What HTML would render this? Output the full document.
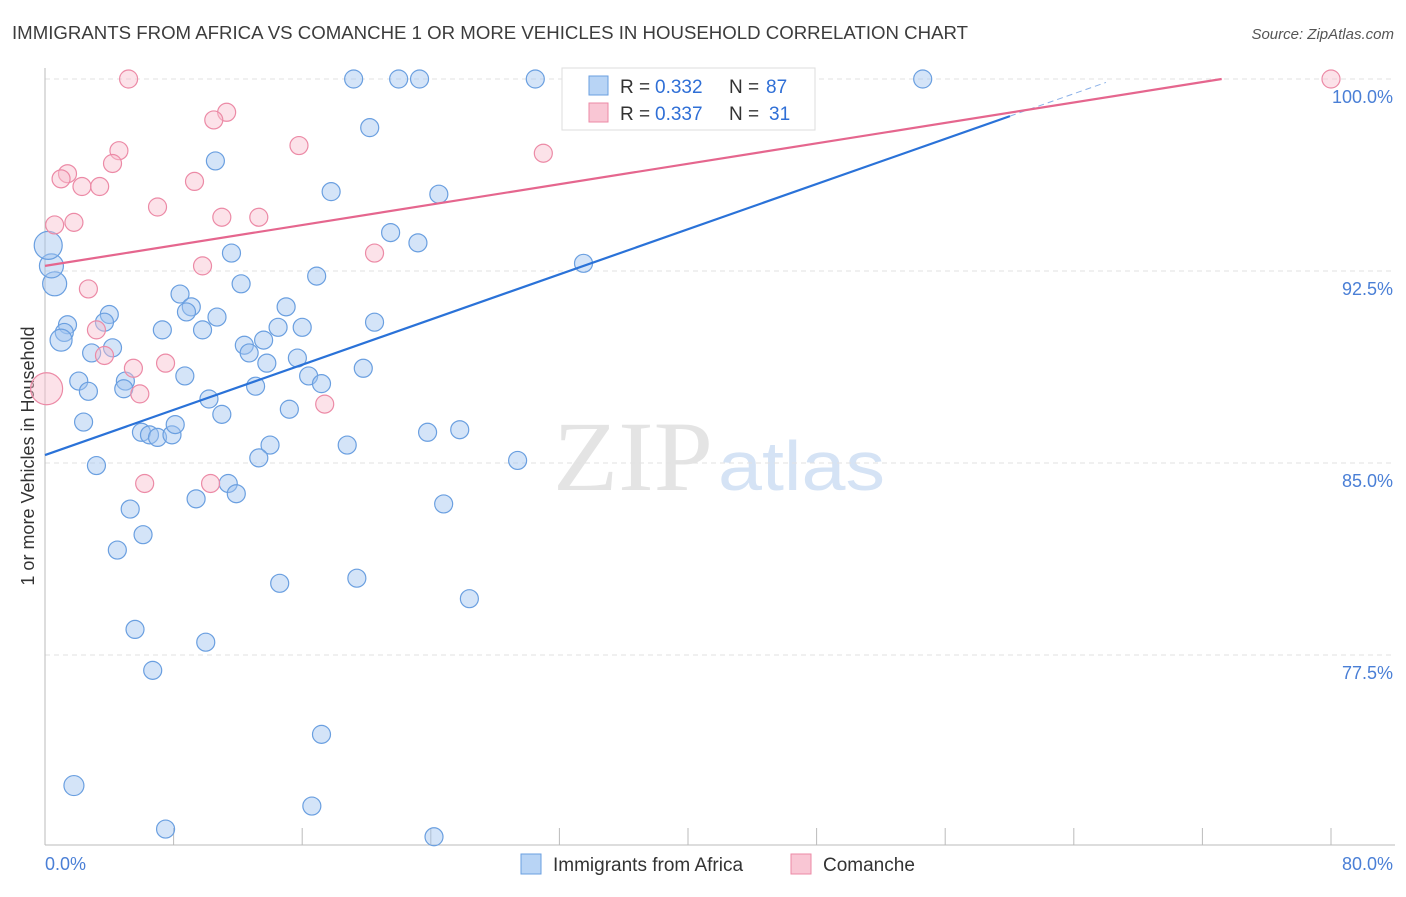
<!DOCTYPE html>
<html><head><meta charset="utf-8"><style>
body{margin:0;background:#fff;font-family:"Liberation Sans",sans-serif}
svg text{font-family:"Liberation Sans",sans-serif}
</style></head><body>
<svg id="chart" width="1406" height="892">
<text x="12" y="39" font-size="18" fill="#3c3c3c" textLength="956" lengthAdjust="spacingAndGlyphs">IMMIGRANTS FROM AFRICA VS COMANCHE 1 OR MORE VEHICLES IN HOUSEHOLD CORRELATION CHART</text>
<text x="1394" y="39" font-size="15" fill="#555" text-anchor="end" font-style="italic">Source: ZipAtlas.com</text>
<text x="553" y="490" font-size="100" fill="#e4e4e4" style="font-family:'Liberation Serif',serif" textLength="160" lengthAdjust="spacingAndGlyphs">ZIP</text>
<text x="718" y="490" font-size="70" fill="#d5e3f5" textLength="167" lengthAdjust="spacingAndGlyphs">atlas</text>
<text transform="translate(34,456) rotate(-90)" font-size="18" fill="#333" text-anchor="middle">1 or more Vehicles in Household</text>
<g id="grid"></g><g id="axes"></g><g id="marks"></g>
<g>
<rect x="562" y="68" width="253" height="62" fill="#fff" stroke="#ddd"/>
<rect x="589" y="76" width="19" height="19" fill="#b8d4f5" stroke="#6a9fe0"/>
<text x="620" y="93" font-size="19" fill="#333">R =</text>
<text x="655" y="93" font-size="19" fill="#2f6fd6">0.332</text>
<text x="729" y="93" font-size="19" fill="#333">N =</text>
<text x="766" y="93" font-size="19" fill="#2f6fd6">87</text>
<rect x="589" y="103" width="19" height="19" fill="#f9c6d4" stroke="#ec8aa6"/>
<text x="620" y="120" font-size="19" fill="#333">R =</text>
<text x="655" y="120" font-size="19" fill="#2f6fd6">0.337</text>
<text x="729" y="120" font-size="19" fill="#333">N =</text>
<text x="769" y="120" font-size="19" fill="#2f6fd6">31</text>
</g>
<g>
<rect x="521" y="854" width="20" height="20" fill="#b8d4f5" stroke="#6a9fe0"/>
<text x="553" y="871" font-size="19" fill="#333">Immigrants from Africa</text>
<rect x="791" y="854" width="20" height="20" fill="#f9c6d4" stroke="#ec8aa6"/>
<text x="823" y="871" font-size="19" fill="#333">Comanche</text>
</g>
</svg>
<script>
const xTicks=[0,80];
const yTicks=[77.5,85.0,92.5,100.0];
const blueX=[19.2,22.0,23.3,30.5,54.6,35.8,33.0,20.2,10.6,17.8,24.5,21.5,23.2,11.6,16.9,33.5,12.2,8.4,9.1,8.8,15.0,4.0,10.7,0.6,0.4,0.2,1.4,1.2,1.0,7.3,9.8,14.5,16.0,20.5,3.7,4.2,2.9,12.4,13.6,12.7,15.7,13.8,19.8,2.1,5.0,4.9,8.7,2.7,13.1,16.4,17.2,10.2,11.0,15.2,2.4,6.0,6.5,7.0,7.9,8.1,14.0,13.3,18.8,23.8,25.8,29.4,3.2,11.4,11.9,9.4,24.8,5.3,6.1,4.5,14.6,19.4,26.4,5.6,10.0,6.7,17.2,1.8,16.6,7.5,24.2];
const blueY=[100,100,100,100,100,100,100,98.1,96.8,95.6,95.5,94.0,93.6,93.2,92.3,92.8,92.0,91.6,91.1,90.9,91.1,90.8,90.7,92.0,92.7,93.5,90.4,90.1,89.8,90.2,90.2,90.3,90.3,90.5,90.5,89.5,89.3,89.6,89.8,89.3,89.1,88.9,88.7,88.2,88.2,87.9,88.4,87.8,88.0,88.4,88.1,87.5,86.9,87.1,86.6,86.2,86.1,86.0,86.1,86.5,85.7,85.2,85.7,86.2,86.3,85.1,84.9,84.2,83.8,83.6,83.4,83.2,82.2,81.6,80.3,80.5,79.7,78.5,78.0,76.9,74.4,72.4,71.6,70.7,70.4];
const blueR=[9,9,9,9,9,9,9,9,9,9,9,9,9,9,9,9,9,9,9,9,9,9,9,12,12,14,9,9,11,9,9,9,9,9,9,9,9,9,9,9,9,9,9,9,9,9,9,9,9,9,9,9,9,9,9,9,9,9,9,9,9,9,9,9,9,9,9,9,9,9,9,9,9,9,9,9,9,9,9,9,9,10,9,9,9];
const pinkX=[5.2,80.0,11.3,10.5,15.8,4.6,31.0,4.2,1.4,1.0,2.3,3.4,9.3,7.0,11.0,13.3,0.6,1.8,9.8,20.5,2.7,3.2,3.7,5.5,7.5,5.9,17.4,6.2,10.3,0.1];
const pinkY=[100,100,98.7,98.4,97.4,97.2,97.1,96.7,96.3,96.1,95.8,95.8,96.0,95.0,94.6,94.6,94.3,94.4,92.7,93.2,91.8,90.2,89.2,88.7,88.9,87.7,87.3,84.2,84.2,87.9];
const pinkR=[9,9,9,9,9,9,9,9,9,9,9,9,9,9,9,9,9,9,9,9,9,9,9,9,9,9,9,9,9,16];
const NS="http://www.w3.org/2000/svg";
const X=v=>45+v*16.075, Y=v=>79+(100-v)*25.6;
function mk(t,a,p){const e=document.createElementNS(NS,t);for(const k in a)e.setAttribute(k,a[k]);document.getElementById(p).appendChild(e);return e;}
yTicks.forEach(v=>{
 const l=mk('line',{x1:45,x2:1395,y1:Y(v),y2:Y(v),stroke:'#e2e2e2','stroke-dasharray':'5,4'},'grid');
 
 
 const t=mk('text',{x:1393,y:Y(v)+24,'font-size':18,fill:'#4a7fd6','text-anchor':'end'},'axes');
 t.textContent=v.toFixed(1)+'%';
 
 
});
mk('line',{x1:45,x2:45,y1:68,y2:845,stroke:'#bbb'},'axes');
mk('line',{x1:45,x2:1395,y1:845,y2:845,stroke:'#bbb'},'axes');
for(let i=0;i<=10;i++){const l=mk('line',{x1:X(i*8),x2:X(i*8),y1:828,y2:845,stroke:'#bbb'},'axes');
 
 }
xTicks.forEach((v,i)=>{const t=mk('text',{x:i?1393:45,y:870,'font-size':18,fill:'#4a7fd6','text-anchor':i?'end':'start'},'axes');
 t.textContent=v.toFixed(1)+'%';
 
 });
blueX.forEach((x,i)=>{const c=mk('circle',{cx:X(x),cy:Y(blueY[i]),r:blueR[i],fill:'rgba(160,196,240,0.45)',stroke:'#6a9fe0','stroke-width':1.2},'marks');
 
 });
pinkX.forEach((x,i)=>{const c=mk('circle',{cx:X(x),cy:Y(pinkY[i]),r:pinkR[i],fill:'rgba(248,190,206,0.45)',stroke:'#ec8aa6','stroke-width':1.2},'marks');
 
 });
const bl=v=>85.31+v*(98.55-85.31)/60.03, pl=v=>92.70+v*(100-92.70)/73.2;
let a=mk('line',{x1:X(0),y1:Y(bl(0)),x2:X(60.03),y2:Y(bl(60.03)),stroke:'#2a72d8','stroke-width':2.2},'marks');


a=mk('line',{x1:X(60.03),y1:Y(bl(60.03)),x2:X(66),y2:Y(bl(66)),stroke:'#8ab0e8','stroke-width':1,'stroke-dasharray':'6,4'},'marks');


a=mk('line',{x1:X(0),y1:Y(pl(0)),x2:X(73.2),y2:Y(pl(73.2)),stroke:'#e5668e','stroke-width':2.2},'marks');


</script>
</body></html>
